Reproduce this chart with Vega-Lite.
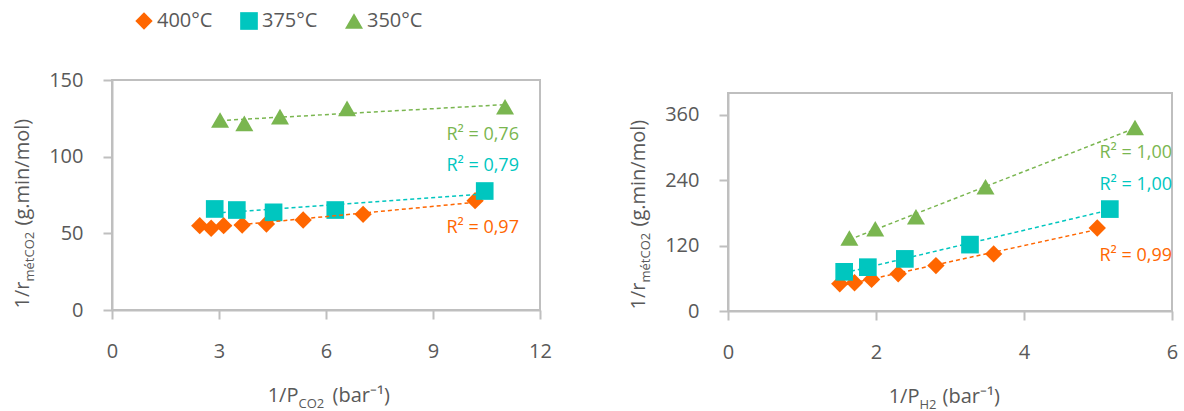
{
  "$schema": "https://vega.github.io/schema/vega-lite/v6.json",
  "padding": {"left": 11, "top": 11, "right": 5, "bottom": 5},
  "config": {
    "font": "Open Sans",
    "view": {"stroke": "#BFBFBF", "strokeWidth": 2},
    "axis": {
      "grid": false,
      "domainColor": "#BFBFBF", "domainWidth": 2,
      "tickColor": "#BFBFBF", "tickWidth": 2, "tickSize": 9,
      "labelFontSize": 20, "labelColor": "#595959", "labelPadding": 20, "labelFlush": false,
      "titleFontSize": 20, "titleColor": "#595959", "titleFontWeight": "normal"
    }
  },
  "datasets": {
    "pts": [
      {"panel": "CO2", "T": "400°C", "x": 2.46, "y": 55.0},
      {"panel": "CO2", "T": "400°C", "x": 2.78, "y": 53.3},
      {"panel": "CO2", "T": "400°C", "x": 3.13, "y": 55.0},
      {"panel": "CO2", "T": "400°C", "x": 3.65, "y": 55.4},
      {"panel": "CO2", "T": "400°C", "x": 4.33, "y": 56.1},
      {"panel": "CO2", "T": "400°C", "x": 5.36, "y": 58.7},
      {"panel": "CO2", "T": "400°C", "x": 7.04, "y": 62.4},
      {"panel": "CO2", "T": "400°C", "x": 10.18, "y": 71.3},
      {"panel": "CO2", "T": "375°C", "x": 2.88, "y": 65.9},
      {"panel": "CO2", "T": "375°C", "x": 3.50, "y": 65.2},
      {"panel": "CO2", "T": "375°C", "x": 4.53, "y": 63.7},
      {"panel": "CO2", "T": "375°C", "x": 6.26, "y": 65.2},
      {"panel": "CO2", "T": "375°C", "x": 10.45, "y": 77.6},
      {"panel": "CO2", "T": "350°C", "x": 3.03, "y": 123.9},
      {"panel": "CO2", "T": "350°C", "x": 3.71, "y": 121.7},
      {"panel": "CO2", "T": "350°C", "x": 4.71, "y": 126.1},
      {"panel": "CO2", "T": "350°C", "x": 6.59, "y": 131.5},
      {"panel": "CO2", "T": "350°C", "x": 11.02, "y": 132.6},
      {"panel": "H2", "T": "400°C", "x": 1.51, "y": 49.9},
      {"panel": "H2", "T": "400°C", "x": 1.71, "y": 51.8},
      {"panel": "H2", "T": "400°C", "x": 1.94, "y": 57.9},
      {"panel": "H2", "T": "400°C", "x": 2.30, "y": 68.2},
      {"panel": "H2", "T": "400°C", "x": 2.81, "y": 83.4},
      {"panel": "H2", "T": "400°C", "x": 3.59, "y": 104.8},
      {"panel": "H2", "T": "400°C", "x": 4.99, "y": 152.3},
      {"panel": "H2", "T": "375°C", "x": 1.57, "y": 71.9},
      {"panel": "H2", "T": "375°C", "x": 1.89, "y": 80.4},
      {"panel": "H2", "T": "375°C", "x": 2.39, "y": 95.6},
      {"panel": "H2", "T": "375°C", "x": 3.27, "y": 121.8},
      {"panel": "H2", "T": "375°C", "x": 5.16, "y": 187.0},
      {"panel": "H2", "T": "350°C", "x": 1.64, "y": 134.0},
      {"panel": "H2", "T": "350°C", "x": 1.99, "y": 151.0},
      {"panel": "H2", "T": "350°C", "x": 2.54, "y": 173.0},
      {"panel": "H2", "T": "350°C", "x": 3.48, "y": 228.0},
      {"panel": "H2", "T": "350°C", "x": 5.50, "y": 336.8}
    ],
    "r2": [
      {"panel": "CO2", "T": "350°C", "x": 11.41, "y": 114, "label": "R² = 0,76"},
      {"panel": "CO2", "T": "375°C", "x": 11.41, "y": 94, "label": "R² = 0,79"},
      {"panel": "CO2", "T": "400°C", "x": 11.41, "y": 53.5, "label": "R² = 0,97"},
      {"panel": "H2", "T": "350°C", "x": 6.0, "y": 290, "label": "R² = 1,00"},
      {"panel": "H2", "T": "375°C", "x": 6.0, "y": 231, "label": "R² = 1,00"},
      {"panel": "H2", "T": "400°C", "x": 6.0, "y": 101, "label": "R² = 0,99"}
    ]
  },
  "hconcat": [
    {
      "width": 428, "height": 230,
      "layer": [
        {
          "data": {"name": "pts"},
          "transform": [{"filter": "datum.panel === 'CO2'"}],
          "mark": {"type": "point", "filled": true, "opacity": 1},
          "encoding": {
            "x": {"field": "x", "type": "quantitative", "scale": {"domain": [0, 12], "nice": false},
                  "axis": {"values": [0, 3, 6, 9, 12], "labelPadding": 22, "title": "1/P", "titleX": 186, "titleY": 91, "titleAlign": "right", "titleBaseline": "alphabetic"}},
            "y": {"field": "y", "type": "quantitative", "scale": {"domain": [0, 150], "nice": false},
                  "axis": {"values": [0, 50, 100, 150], "title": "1/r", "titleX": -84, "titleY": 228, "titleAlign": "left", "titleBaseline": "alphabetic"}},
            "size": {"field": "T", "type": "nominal", "scale": {"domain": ["400°C", "375°C", "350°C"], "range": [300, 324, 400]}, "legend": null},
            "color": {"field": "T", "type": "nominal", "scale": {"domain": ["400°C", "375°C", "350°C"], "range": ["#FF6600", "#00C6BF", "#7AB650"]},
                      "legend": {"title": null, "orient": "none", "legendX": 22, "legendY": -69, "direction": "horizontal", "labelFontSize": 20, "labelColor": "#595959", "symbolSize": 260, "columnPadding": 26, "labelOffset": 3, "padding": 0, "symbolStrokeWidth": 0, "symbolOpacity": 1}},
            "shape": {"field": "T", "type": "nominal", "scale": {"domain": ["400°C", "375°C", "350°C"], "range": ["diamond", "square", "triangle-up"]},
                      "legend": {"title": null, "orient": "none", "legendX": 22, "legendY": -69, "direction": "horizontal", "labelFontSize": 20, "labelColor": "#595959", "symbolSize": 260, "columnPadding": 26, "labelOffset": 3, "padding": 0, "symbolStrokeWidth": 0, "symbolOpacity": 1}}
          }
        },
        {
          "data": {"name": "pts"},
          "transform": [{"filter": "datum.panel === 'CO2'"}, {"regression": "y", "on": "x", "groupby": ["T"]}],
          "mark": {"type": "line", "strokeDash": [4, 3], "strokeWidth": 1.5},
          "encoding": {
            "x": {"field": "x", "type": "quantitative", "axis": {"orient": "bottom", "domain": false, "ticks": false, "labels": false, "title": "CO2", "titleFontSize": 13, "titleX": 186, "titleY": 97, "titleAlign": "left", "titleBaseline": "alphabetic"}},
            "y": {"field": "y", "type": "quantitative", "axis": {"orient": "left", "domain": false, "ticks": false, "labels": false, "title": "métCO2", "titleFontSize": 13, "titleX": -79, "titleY": 201, "titleAlign": "left", "titleBaseline": "alphabetic"}},
            "color": {"field": "T", "type": "nominal", "legend": null}
          }
        },
        {
          "data": {"name": "r2"},
          "transform": [{"filter": "datum.panel === 'CO2'"}],
          "mark": {"type": "text", "align": "right", "baseline": "middle", "fontSize": 18},
          "encoding": {
            "x": {"field": "x", "type": "quantitative", "axis": {"orient": "bottom", "domain": false, "ticks": false, "labels": false, "title": "(bar⁻¹)", "titleX": 220, "titleY": 91, "titleAlign": "left", "titleBaseline": "alphabetic"}},
            "y": {"field": "y", "type": "quantitative", "axis": {"orient": "left", "domain": false, "ticks": false, "labels": false, "title": "(g.min/mol)", "titleX": -84, "titleY": 145, "titleAlign": "left", "titleBaseline": "alphabetic"}},
            "text": {"field": "label"},
            "color": {"field": "T", "type": "nominal", "legend": null}
          }
        }
      ],
      "resolve": {"axis": {"x": "independent", "y": "independent"}}
    },
    {
      "spacing": 11,
      "vconcat": [
        {
          "width": 444, "height": 1,
          "data": {"values": []},
          "mark": {"type": "point", "opacity": 0},
          "encoding": {},
          "view": {"stroke": null}
        },
        {
          "width": 444, "height": 218,
          "layer": [
            {
              "data": {"name": "pts"},
              "transform": [{"filter": "datum.panel === 'H2'"}],
              "mark": {"type": "point", "filled": true, "opacity": 1},
              "encoding": {
                "x": {"field": "x", "type": "quantitative", "scale": {"domain": [0, 6], "nice": false},
                      "axis": {"values": [0, 2, 4, 6], "labelPadding": 22, "title": "1/P", "titleX": 191, "titleY": 91, "titleAlign": "right", "titleBaseline": "alphabetic"}},
                "y": {"field": "y", "type": "quantitative", "scale": {"domain": [0, 400], "nice": false},
                      "axis": {"values": [0, 120, 240, 360], "title": "1/r", "titleX": -84, "titleY": 216, "titleAlign": "left", "titleBaseline": "alphabetic"}},
                "size": {"field": "T", "type": "nominal", "scale": {"domain": ["400°C", "375°C", "350°C"], "range": [300, 324, 400]}, "legend": null},
                "color": {"field": "T", "type": "nominal", "scale": {"domain": ["400°C", "375°C", "350°C"], "range": ["#FF6600", "#00C6BF", "#7AB650"]},
                          "legend": {"title": null, "orient": "none", "legendX": 22, "legendY": -69, "direction": "horizontal", "labelFontSize": 20, "labelColor": "#595959", "symbolSize": 260, "columnPadding": 26, "labelOffset": 3, "padding": 0, "symbolStrokeWidth": 0, "symbolOpacity": 1}},
                "shape": {"field": "T", "type": "nominal", "scale": {"domain": ["400°C", "375°C", "350°C"], "range": ["diamond", "square", "triangle-up"]},
                          "legend": {"title": null, "orient": "none", "legendX": 22, "legendY": -69, "direction": "horizontal", "labelFontSize": 20, "labelColor": "#595959", "symbolSize": 260, "columnPadding": 26, "labelOffset": 3, "padding": 0, "symbolStrokeWidth": 0, "symbolOpacity": 1}}
              }
            },
            {
              "data": {"name": "pts"},
              "transform": [{"filter": "datum.panel === 'H2'"}, {"regression": "y", "on": "x", "groupby": ["T"]}],
              "mark": {"type": "line", "strokeDash": [4, 3], "strokeWidth": 1.5},
              "encoding": {
                "x": {"field": "x", "type": "quantitative", "axis": {"orient": "bottom", "domain": false, "ticks": false, "labels": false, "title": "H2", "titleFontSize": 13, "titleX": 191, "titleY": 97, "titleAlign": "left", "titleBaseline": "alphabetic"}},
                "y": {"field": "y", "type": "quantitative", "axis": {"orient": "left", "domain": false, "ticks": false, "labels": false, "title": "métCO2", "titleFontSize": 13, "titleX": -79, "titleY": 189, "titleAlign": "left", "titleBaseline": "alphabetic"}},
                "color": {"field": "T", "type": "nominal", "legend": null}
              }
            },
            {
              "data": {"name": "r2"},
              "transform": [{"filter": "datum.panel === 'H2'"}],
              "mark": {"type": "text", "align": "right", "baseline": "middle", "fontSize": 18},
              "encoding": {
                "x": {"field": "x", "type": "quantitative", "axis": {"orient": "bottom", "domain": false, "ticks": false, "labels": false, "title": "(bar⁻¹)", "titleX": 214, "titleY": 91, "titleAlign": "left", "titleBaseline": "alphabetic"}},
                "y": {"field": "y", "type": "quantitative", "axis": {"orient": "left", "domain": false, "ticks": false, "labels": false, "title": "(g.min/mol)", "titleX": -84, "titleY": 133, "titleAlign": "left", "titleBaseline": "alphabetic"}},
                "text": {"field": "label"},
                "color": {"field": "T", "type": "nominal", "legend": null}
              }
            }
          ],
          "resolve": {"axis": {"x": "independent", "y": "independent"}}
        }
      ]
    }
  ],
  "spacing": 74,
  "resolve": {"scale": {"color": "shared", "shape": "shared", "size": "shared"}}
}
